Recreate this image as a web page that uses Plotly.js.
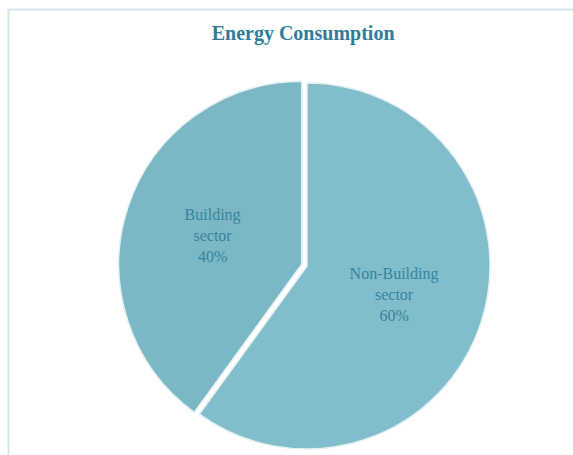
<!DOCTYPE html>
<html>
<head>
<meta charset="utf-8">
<script src="https://cdn.plot.ly/plotly-3.0.1.min.js"></script>
<style>
  html, body { margin: 0; padding: 0; background: #ffffff; }
  #chart { width: 573px; height: 455px; }
</style>
</head>
<body>
<div id="chart"></div>
<script>
// Share of total energy use by sector
const sectors = ["Non-Building<br>sector", "Building<br>sector"];
const shares = [60, 40];
const sliceColors = ["#82bdcb", "#7cb7c6"];
const slicePull = [0, 0.03];

const trace = {
  type: "pie",
  labels: sectors,
  values: shares,
  sort: false,
  direction: "clockwise",
  rotation: 0,
  pull: slicePull,
  marker: { colors: sliceColors, line: { color: "#e4f1f4", width: 1.5 } },
  textinfo: "label+percent",
  textposition: "inside",
  insidetextorientation: "horizontal",
  insidetextfont: { family: "Liberation Serif, Times New Roman, serif", size: 16, color: "#37849b" },
  hoverinfo: "label+percent",
  showlegend: false,
  domain: { x: [0.2068, 0.8648], y: [0.0011, 0.8297] }
};

const layout = {
  width: 573,
  height: 455,
  margin: { l: 0, r: 0, t: 0, b: 0 },
  paper_bgcolor: "#ffffff",
  title: {
    text: "<b>Energy Consumption</b>",
    font: { family: "Liberation Serif, Times New Roman, serif", size: 20, color: "#2f7d95" },
    x: 0.529,
    xanchor: "center",
    y: 0.927,
    yanchor: "middle"
  },
  shapes: [
    {
      type: "rect", xref: "paper", yref: "paper",
      x0: 0.0148, x1: 1.02, y0: -0.02, y1: 0.979,
      line: { color: "#d3e5ea", width: 2 },
      fillcolor: "rgba(0,0,0,0)"
    }
  ]
};

Plotly.newPlot("chart", [trace], layout, { displayModeBar: false, staticPlot: true });
</script>
</body>
</html>
